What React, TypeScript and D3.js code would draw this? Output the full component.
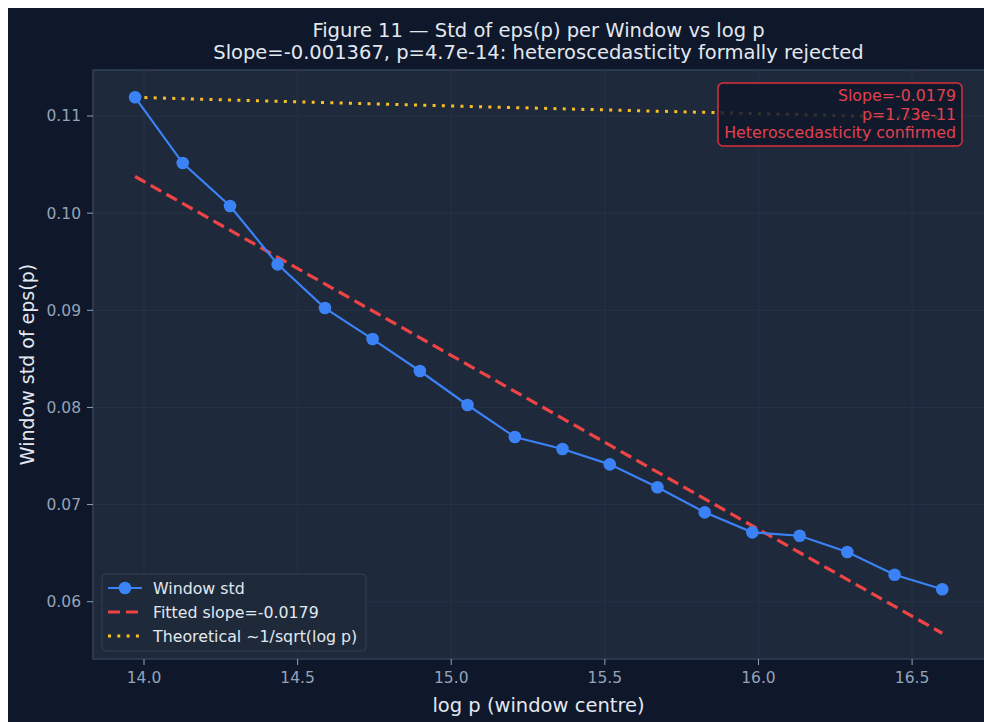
import React from "react";
import * as d3 from "d3";

// Window centres (log p) and per-window standard deviation of eps(p)
const logP = [
  13.971, 14.126, 14.28, 14.435, 14.589, 14.744, 14.898, 15.053, 15.207,
  15.362, 15.516, 15.671, 15.825, 15.98, 16.134, 16.289, 16.443, 16.598,
];
const windowStd = [
  0.11193, 0.10516, 0.10074, 0.09473, 0.09023, 0.08704, 0.08375, 0.08025,
  0.07695, 0.07572, 0.07414, 0.07178, 0.0692, 0.06714, 0.06679, 0.06512,
  0.06278, 0.06128,
];
// Theoretical ~1/sqrt(log p) reference, anchored at the first window
const theoretical = [
  0.11193, 0.11179, 0.11165, 0.11152, 0.11138, 0.11125, 0.11112, 0.11099,
  0.11087, 0.11074, 0.11062, 0.1105, 0.11038, 0.11026, 0.11015, 0.11003,
  0.10992, 0.10981,
];
const fitSlope = -0.0179;
const fitPValue = "1.73e-11";
const xTicks = [14.0, 14.5, 15.0, 15.5, 16.0, 16.5];
const yTicks = [0.06, 0.07, 0.08, 0.09, 0.1, 0.11];

const W = 984;
const H = 722;
const M = { left: 93, right: 984, top: 70, bottom: 659 };
const FONT = "'DejaVu Sans', sans-serif";

const BLUE = "#3b82f6";
const RED = "#ef4444";
const AMBER = "#fbbf24";

export default function App() {
  const x = d3.scaleLinear().domain([13.834, 16.734]).range([M.left, M.right]);
  const y = d3.scaleLinear().domain([0.0541, 0.11474]).range([M.bottom, M.top]);

  const pts = logP.map((v, i) => [v, windowStd[i]] as [number, number]);
  const line = d3
    .line<[number, number]>()
    .x((d) => x(d[0]))
    .y((d) => y(d[1]));

  const meanX = d3.mean(logP) as number;
  const meanY = d3.mean(windowStd) as number;
  const fitAt = (v: number) => meanY + fitSlope * (v - meanX);
  const x0 = logP[0];
  const x1 = logP[logP.length - 1];
  const fitPts: [number, number][] = [
    [x0, fitAt(x0)],
    [x1, fitAt(x1)],
  ];
  const theoPts = logP.map((v, i) => [v, theoretical[i]] as [number, number]);

  const slopeText = `Slope=${fitSlope.toFixed(4)}`;

  return (
    <svg
      width={W}
      height={H}
      style={{ position: "fixed", left: 0, top: 0 }}
      fontFamily={FONT}
    >
      <rect x={0} y={0} width={W} height={H} fill="#ffffff" />
      <rect x={8} y={8} width={W - 8} height={H - 8} fill="#0f172a" />

      {/* title */}
      <text x={538.5} y={37} textAnchor="middle" fill="#e2e8f0" fontSize={19.5}>
        Figure 11 — Std of eps(p) per Window vs log p
      </text>
      <text x={538.5} y={59} textAnchor="middle" fill="#e2e8f0" fontSize={19.5}>
        Slope=-0.001367, p=4.7e-14: heteroscedasticity formally rejected
      </text>

      {/* plot area */}
      <rect
        x={M.left}
        y={M.top}
        width={M.right - M.left + 2}
        height={M.bottom - M.top}
        fill="#1e293b"
        stroke="#334155"
        strokeWidth={1.5}
      />
      {xTicks.map((t) => (
        <line
          key={`gx${t}`}
          x1={x(t)}
          x2={x(t)}
          y1={M.top}
          y2={M.bottom}
          stroke="#263247"
          strokeWidth={1}
        />
      ))}
      {yTicks.map((t) => (
        <line
          key={`gy${t}`}
          x1={M.left}
          x2={M.right}
          y1={y(t)}
          y2={y(t)}
          stroke="#263247"
          strokeWidth={1}
        />
      ))}

      {/* axes ticks */}
      {xTicks.map((t) => (
        <g key={`tx${t}`}>
          <line x1={x(t)} x2={x(t)} y1={M.bottom} y2={M.bottom + 6} stroke="#94a3b8" />
          <text
            x={x(t)}
            y={M.bottom + 24}
            textAnchor="middle"
            fill="#94a3b8"
            fontSize={15.5}
          >
            {t.toFixed(1)}
          </text>
        </g>
      ))}
      {yTicks.map((t) => (
        <g key={`ty${t}`}>
          <line x1={M.left - 6} x2={M.left} y1={y(t)} y2={y(t)} stroke="#94a3b8" />
          <text
            x={M.left - 12}
            y={y(t)}
            dy="0.35em"
            textAnchor="end"
            fill="#94a3b8"
            fontSize={15.5}
          >
            {t.toFixed(2)}
          </text>
        </g>
      ))}

      <text x={538.5} y={712} textAnchor="middle" fill="#e2e8f0" fontSize={19.5}>
        log p (window centre)
      </text>
      <text
        transform={`translate(34, ${(M.top + M.bottom) / 2}) rotate(-90)`}
        textAnchor="middle"
        fill="#e2e8f0"
        fontSize={19}
      >
        Window std of eps(p)
      </text>

      {/* theoretical reference */}
      <path
        d={line(theoPts) as string}
        fill="none"
        stroke={AMBER}
        strokeWidth={3}
        strokeDasharray="3,6.3"
      />
      {/* fitted line */}
      <path
        d={line(fitPts) as string}
        fill="none"
        stroke={RED}
        strokeWidth={3.2}
        strokeDasharray="12,6"
      />
      {/* window std */}
      <path d={line(pts) as string} fill="none" stroke={BLUE} strokeWidth={2.2} />
      {pts.map((d, i) => (
        <circle key={i} cx={x(d[0])} cy={y(d[1])} r={6.3} fill={BLUE} />
      ))}

      {/* annotation */}
      <rect
        x={718}
        y={83}
        width={244}
        height={63}
        rx={5}
        fill="#0f172a"
        fillOpacity={0.85}
        stroke="#dc2f3c"
        strokeWidth={1.5}
      />
      {[slopeText, `p=${fitPValue}`, "Heteroscedasticity confirmed"].map((s, i) => (
        <text
          key={s}
          x={956}
          y={101 + i * 18.5}
          textAnchor="end"
          fill="#e0404f"
          fontSize={15.8}
        >
          {s}
        </text>
      ))}

      {/* legend */}
      <rect
        x={102}
        y={574}
        width={264}
        height={77}
        rx={4}
        fill="#1e293b"
        fillOpacity={0.9}
        stroke="#334155"
        strokeWidth={1}
      />
      <line x1={108} x2={142} y1={588} y2={588} stroke={BLUE} strokeWidth={2.2} />
      <circle cx={125} cy={588} r={6.3} fill={BLUE} />
      <line
        x1={108}
        x2={142}
        y1={612}
        y2={612}
        stroke={RED}
        strokeWidth={3.2}
        strokeDasharray="12,6"
      />
      <line
        x1={108}
        x2={142}
        y1={636}
        y2={636}
        stroke={AMBER}
        strokeWidth={3}
        strokeDasharray="3,6.3"
      />
      {["Window std", `Fitted slope=${fitSlope.toFixed(4)}`, "Theoretical ~1/sqrt(log p)"].map(
        (s, i) => (
          <text
            key={s}
            x={153}
            y={588 + i * 24}
            dy="0.35em"
            fill="#e2e8f0"
            fontSize={15.8}
          >
            {s}
          </text>
        )
      )}
    </svg>
  );
}
